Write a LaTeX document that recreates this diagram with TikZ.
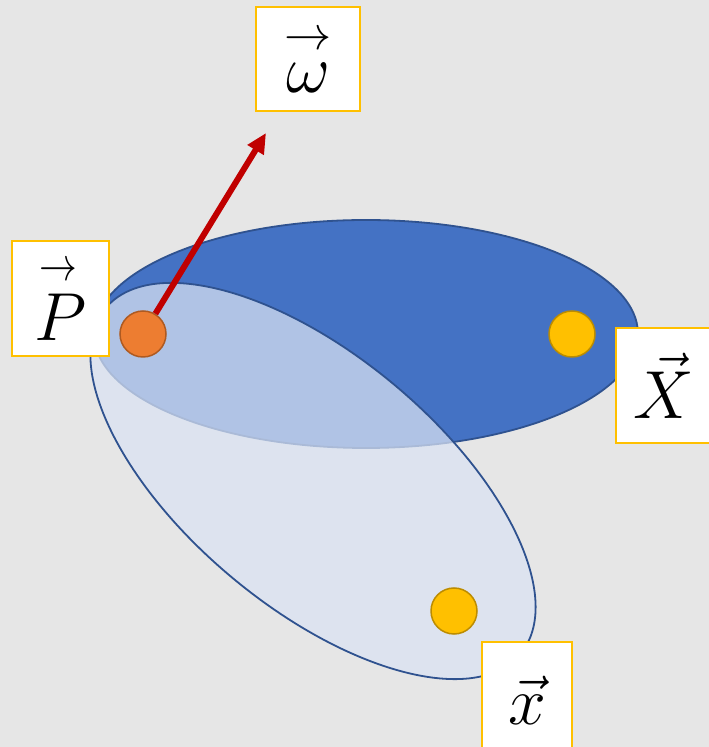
\documentclass[tikz,border=0pt]{standalone}
\usepackage{graphicx}
\usepackage{amsmath}
\usetikzlibrary{shapes.geometric,arrows.meta}
\definecolor{bg}{HTML}{E6E6E6}
\definecolor{blueA}{HTML}{4472C4}
\definecolor{blueEdge}{HTML}{2F528F}
\definecolor{lightA}{HTML}{DAE3F3}
\definecolor{orangeA}{HTML}{ED7D31}
\definecolor{orangeEdge}{HTML}{AE5A21}
\definecolor{goldA}{HTML}{FFC000}
\definecolor{goldEdge}{HTML}{BC8C00}
\definecolor{redA}{HTML}{C00000}
\newcommand{\bigsym}[1]{\scalebox{2.73}{\Huge$#1$}}
\newcommand{\arrowover}[2]{\overset{\scalebox{#1}[1]{$\scriptscriptstyle\rightarrow$}}{#2}}
\tikzset{
  bigell/.style={ellipse, inner sep=0pt, draw=blueEdge, line width=1.8pt},
  dot/.style={circle, inner sep=0pt, minimum size=46pt, line width=1.5pt},
  labelbox/.style={draw=goldA, fill=white, line width=2pt, inner sep=0pt},
}
\begin{document}
\begin{tikzpicture}[x=1pt,y=1pt]
\fill[bg] (0,0) rectangle (709,747);
\useasboundingbox (0,0) rectangle (709,747);
% ellipses
\node[bigell, fill=blueA, minimum width=544pt, minimum height=228pt] (E1) at (366,413) {};
\node[bigell, fill=lightA, fill opacity=0.72, minimum width=540pt, minimum height=252pt, rotate=-39.8] (E2) at (313,266) {};
% points
\node[dot, fill=orangeA, draw=orangeEdge] (Pp) at (143,413) {};
\node[dot, fill=goldA, draw=goldEdge] (Xp) at (572,413) {};
\node[dot, fill=goldA, draw=goldEdge] (xp) at (454,136) {};
% arrow
\coordinate (tip) at (266,614);
\draw[redA, line width=6pt, -{Triangle[length=20pt,width=18pt]}] (Pp) -- (tip);
% label boxes
\node[labelbox, minimum width=104pt, minimum height=104pt] (w) at (308,688) {\bigsym{\arrowover{1}{\omega}}};
\node[labelbox, minimum width=97pt, minimum height=115pt] (P) at (60.5,448.5) {\bigsym{\arrowover{0.8}{P}}};
\node[labelbox, minimum width=96pt, minimum height=115pt] (X) at (664,361.5) {\bigsym{\vec{X}}};
\node[labelbox, minimum width=90pt, minimum height=115pt] (x) at (527,47) {\bigsym{\vec{x}}};
\end{tikzpicture}
\end{document}
